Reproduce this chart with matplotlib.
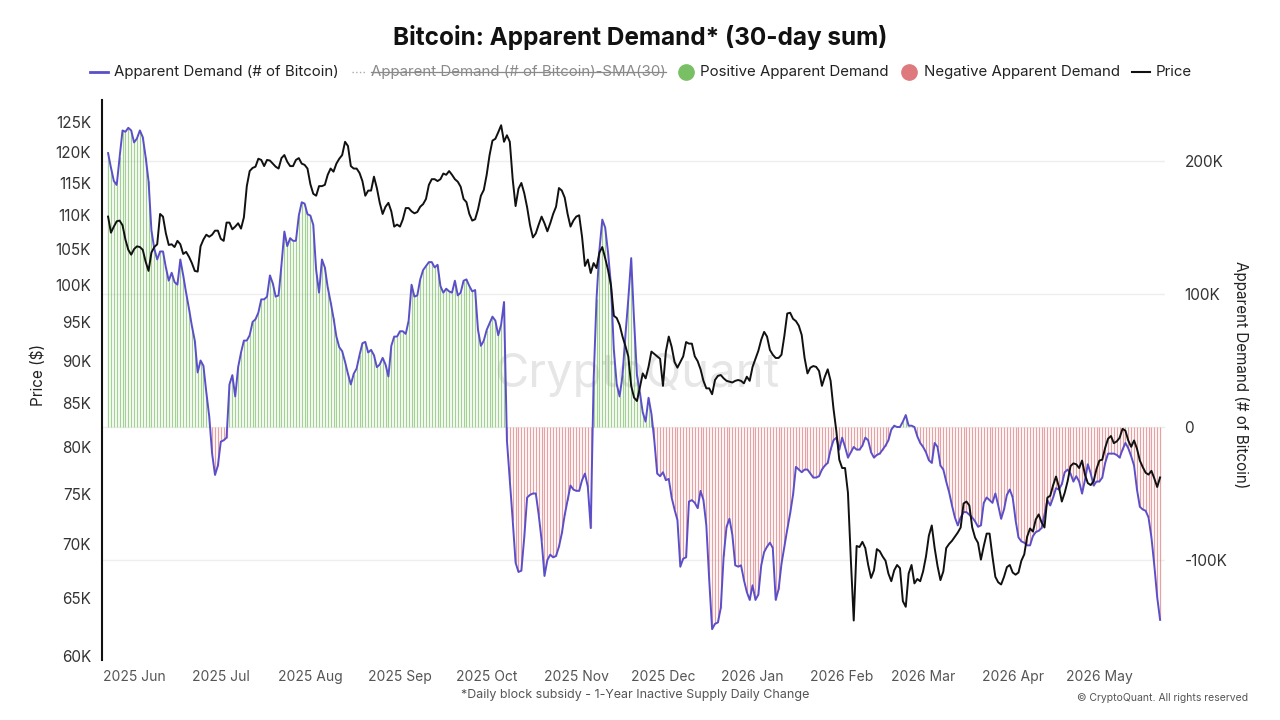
import numpy as np
import pandas as pd
import matplotlib
matplotlib.use("Agg")
import matplotlib.pyplot as plt
import matplotlib.dates as mdates
from matplotlib.lines import Line2D
from matplotlib.ticker import FixedLocator, NullLocator, FuncFormatter

plt.rcParams['font.family'] = ['Inter', 'DejaVu Sans']

# daily data, 2025-05-23 .. 2026-05-22
dates = pd.date_range('2025-05-23', periods=365, freq='D')

# Apparent demand, thousands of BTC (30-day sum)
demand_k = [
    206, 195, 185, 182, 203, 223, 222, 225, 223, 214,
    217, 223, 218, 203, 185, 148, 134, 126, 132, 132,
    120, 110, 116, 109, 107, 126, 114, 101, 89, 76,
    65, 41, 50, 46, 26, 8, -20, -36, -29, -11,
    -10, -8, 32, 39, 23, 45, 56, 65, 65, 69,
    79, 81, 86, 96, 96, 98, 114, 108, 98, 99,
    122, 147, 136, 142, 140, 140, 159, 169, 168, 160,
    159, 152, 118, 101, 126, 120, 105, 94, 82, 68,
    60, 57, 49, 40, 32, 40, 44, 54, 63, 64,
    56, 58, 54, 45, 47, 52, 47, 38, 61, 68,
    68, 72, 72, 70, 80, 107, 98, 99, 111, 118,
    121, 124, 124, 120, 122, 106, 101, 104, 102, 101,
    110, 99, 101, 110, 111, 106, 102, 103, 73, 61,
    65, 73, 78, 83, 80, 69, 77, 94, -10, -40,
    -70, -102, -109, -108, -83, -53, -51, -50, -50, -66,
    -85, -112, -100, -96, -98, -97, -90, -80, -66, -55,
    -44, -47, -48, -48, -40, -35, -45, -76, 35, 96,
    133, 156, 150, 131, 107, 58, 32, 23, 39, 69,
    96, 127, 80, 39, 26, 11, 4, 22, 10, -10,
    -35, -37, -34, -40, -39, -53, -62, -70, -105, -99,
    -98, -56, -55, -57, -61, -48, -55, -74, -115, -152,
    -148, -147, -136, -97, -75, -69, -81, -104, -105, -104,
    -115, -124, -130, -119, -130, -126, -104, -94, -90, -87,
    -91, -130, -122, -103, -90, -77, -65, -51, -30, -32,
    -34, -32, -32, -35, -38, -38, -37, -32, -29, -27,
    -17, -10, -8, -17, -8, -15, -23, -19, -15, -17,
    -17, -14, -8, -10, -19, -23, -21, -20, -17, -14,
    -10, -2, 1, 0, 0, 4, 9, 1, 1, 0,
    -7, -12, -15, -19, -25, -27, -12, -15, -29, -32,
    -41, -49, -59, -68, -74, -68, -64, -64, -66, -68,
    -71, -75, -74, -57, -53, -55, -57, -50, -59, -69,
    -62, -51, -47, -53, -70, -83, -86, -87, -89, -89,
    -82, -79, -78, -76, -66, -55, -59, -53, -46, -47,
    -43, -34, -32, -35, -41, -37, -41, -50, -40, -28,
    -35, -44, -41, -41, -38, -27, -20, -20, -20, -21,
    -23, -17, -12, -16, -22, -29, -47, -60, -62, -63,
    -68, -83, -104, -128, -145,
]

# BTC price, thousands of USD
price_k = [
    109.8, 107.4, 108.3, 109.1, 109.2, 108.5, 106.4, 104.9, 104.2, 105.0,
    105.4, 105.3, 104.9, 103.2, 101.9, 104.5, 105.3, 105.7, 110.2, 109.8,
    107.3, 105.6, 105.7, 105.3, 106.2, 105.7, 104.3, 104.6, 103.9, 103.0,
    101.9, 101.8, 105.4, 106.4, 107.1, 106.8, 107.1, 107.7, 107.7, 106.5,
    106.2, 108.9, 108.9, 107.9, 108.3, 108.8, 108.0, 109.7, 114.5, 116.9,
    117.4, 117.6, 118.9, 118.7, 117.7, 118.7, 118.6, 118.1, 117.6, 117.3,
    119.0, 119.5, 118.4, 117.7, 117.7, 118.7, 119.0, 118.1, 117.9, 117.3,
    114.8, 113.3, 113.0, 114.5, 114.5, 114.7, 116.3, 117.3, 116.8, 118.1,
    118.9, 119.5, 121.7, 121.0, 117.7, 117.3, 117.3, 116.6, 115.3, 113.0,
    113.8, 113.8, 116.0, 114.2, 111.9, 110.2, 111.3, 111.9, 110.6, 108.3,
    108.6, 108.3, 109.4, 111.1, 111.1, 110.6, 110.3, 110.5, 111.3, 111.7,
    112.5, 114.7, 115.6, 115.6, 115.3, 115.6, 116.5, 116.3, 116.9, 116.3,
    115.6, 115.2, 114.4, 112.5, 112.0, 110.2, 109.2, 109.4, 110.9, 113.0,
    113.9, 116.3, 119.5, 121.9, 122.2, 123.3, 124.5, 121.7, 122.8, 121.7,
    115.6, 111.4, 114.1, 115.0, 113.4, 111.2, 108.5, 106.7, 107.3, 108.6,
    109.8, 108.8, 107.6, 108.8, 110.2, 111.3, 114.2, 113.8, 112.7, 110.2,
    108.3, 109.2, 109.8, 110.0, 106.8, 102.6, 103.5, 101.6, 103.0, 102.3,
    104.5, 105.3, 103.7, 102.0, 99.9, 95.8, 95.5, 94.6, 93.1, 91.9,
    90.6, 87.0, 85.6, 85.2, 86.8, 88.5, 87.9, 89.3, 91.2, 90.9,
    90.6, 90.3, 87.0, 91.2, 93.1, 91.8, 89.9, 89.2, 89.9, 90.6,
    92.4, 92.2, 92.2, 90.6, 90.0, 89.0, 87.6, 86.7, 86.7, 86.0,
    87.7, 88.2, 88.3, 87.9, 87.6, 87.5, 87.4, 87.6, 87.7, 87.6,
    87.3, 88.1, 87.6, 89.3, 90.3, 91.3, 92.7, 93.7, 93.1, 91.4,
    90.8, 90.4, 90.4, 90.8, 93.2, 96.1, 96.2, 95.4, 95.1, 94.5,
    93.3, 90.4, 88.5, 89.2, 89.4, 89.3, 88.8, 87.0, 88.1, 89.0,
    87.6, 84.3, 81.7, 78.6, 77.7, 77.7, 75.1, 68.5, 63.0, 69.8,
    69.7, 70.2, 69.6, 68.0, 66.8, 67.5, 69.5, 69.3, 68.8, 68.4,
    67.2, 66.5, 67.5, 68.0, 67.7, 64.7, 64.2, 67.2, 68.0, 66.3,
    66.7, 66.5, 67.4, 68.8, 70.8, 71.8, 69.6, 67.9, 66.6, 67.4,
    69.6, 70.0, 70.3, 70.7, 71.1, 71.6, 74.0, 74.2, 73.8, 71.6,
    70.6, 70.1, 68.5, 69.8, 71.0, 71.0, 68.8, 66.9, 66.4, 66.2,
    66.9, 67.8, 68.0, 67.3, 67.1, 67.3, 68.4, 69.0, 70.7, 71.5,
    71.2, 72.4, 72.9, 72.1, 71.6, 74.6, 74.8, 75.9, 76.8, 75.7,
    74.2, 75.1, 76.3, 77.9, 78.2, 78.1, 77.7, 78.5, 77.0, 76.1,
    75.9, 76.3, 77.6, 78.5, 78.6, 79.9, 80.9, 81.2, 80.4, 80.6,
    81.0, 82.0, 81.8, 80.7, 80.0, 80.7, 79.8, 78.5, 77.8, 77.2,
    77.0, 77.4, 76.6, 75.7, 76.7,
]

price_ticks = [60, 65, 70, 75, 80, 85, 90, 95, 100, 105, 110, 115, 120, 125]
demand_ticks = [-100, 0, 100, 200]

demand = np.array(demand_k, dtype=float)
price = np.array(price_k, dtype=float)

PURPLE = '#5b4fc9'
GREEN = '#79c064'
RED = '#de7a7e'

fig = plt.figure(figsize=(12.8, 7.2), dpi=100)
ax = fig.add_axes([102 / 1280, 1 - 660 / 720, (1165 - 102) / 1280, 560 / 720])

# demand on the base axes (right side), price on the twin so it sits on top
pos = demand >= 0
ax.vlines(dates[pos], 0, demand[pos], color=GREEN, lw=0.9, alpha=0.7, zorder=2)
ax.vlines(dates[~pos], 0, demand[~pos], color=RED, lw=0.9, alpha=0.7, zorder=2)
ax.plot(dates, demand, color=PURPLE, lw=1.4, zorder=3)
ax.set_ylim(-175.2, 245.9)
ax.set_xlim(dates[0] - pd.Timedelta(days=2.1), dates[0] + pd.Timedelta(days=365.7))
ax.grid(axis='y', color='#eeeeee', lw=1)
ax.set_axisbelow(True)

ax.xaxis.set_major_locator(mdates.MonthLocator())
ax.xaxis.set_major_formatter(mdates.DateFormatter('%Y %b'))
ax.tick_params(axis='x', length=0, pad=7, labelsize=10, labelcolor='#555555')

ax.text(0.503, 0.509, 'CryptoQuant', transform=ax.transAxes, fontsize=34,
        color='#c8c8c8', alpha=0.45, ha='center', va='center', zorder=1)

for s in ax.spines.values():
    s.set_visible(False)

axp = ax.twinx()
axp.plot(dates, price, color='#111111', lw=1.4, zorder=4)
axp.set_yscale('log')
axp.set_ylim(59.67, 128.9)

# twinx moves the base axis ticks to the left, so set sides afterwards
ax.yaxis.tick_right()
ax.yaxis.set_major_locator(FixedLocator(demand_ticks))
ax.yaxis.set_major_formatter(FuncFormatter(lambda v, p: '0' if v == 0 else f'{int(v)}K'))
ax.tick_params(axis='y', which='both', left=False, labelleft=False, right=False,
               labelright=True, length=0, pad=14, labelsize=11, labelcolor='#333333')

axp.yaxis.tick_left()
axp.yaxis.set_major_locator(FixedLocator(price_ticks))
axp.yaxis.set_minor_locator(NullLocator())
axp.yaxis.set_major_formatter(FuncFormatter(lambda v, p: f'{int(round(v))}K'))
axp.tick_params(axis='y', which='both', right=False, labelright=False, left=False,
                labelleft=True, length=0, pad=8, labelsize=11, labelcolor='#333333')
for name, s in axp.spines.items():
    s.set_visible(name == 'left')
axp.spines['left'].set_color('#111111')
axp.spines['left'].set_linewidth(1.5)

fig.text(38 / 1280, 1 - 375 / 720, 'Price ($)', rotation=90, ha='center', va='center',
         fontsize=11, color='#222222')
fig.text(1241 / 1280, 1 - 375 / 720, 'Apparent Demand (# of Bitcoin)', rotation=270,
         ha='center', va='center', fontsize=11, color='#222222')

fig.text(0.5, 1 - 38 / 720, 'Bitcoin: Apparent Demand* (30-day sum)', ha='center',
         va='center', fontsize=17.5, fontweight='bold', color='#111111')

fig.text(635 / 1280, 1 - 695 / 720, '*Daily block subsidy - 1-Year Inactive Supply Daily Change',
         ha='center', va='center', fontsize=9, color='#555555')
fig.text(1248 / 1280, 1 - 698 / 720, '\u00a9 CryptoQuant. All rights reserved', ha='right',
         va='center', fontsize=7.5, color='#555555')

# legend row, built by hand
ly = 1 - 72 / 720
fs = 10.8
fig.add_artist(Line2D([90 / 1280, 108 / 1280], [ly, ly], color=PURPLE, lw=2, transform=fig.transFigure))
fig.text(114 / 1280, ly, 'Apparent Demand (# of Bitcoin)', ha='left', va='center', fontsize=fs, color='#222222')
fig.add_artist(Line2D([352 / 1280, 366 / 1280], [ly, ly], color='#aaaaaa', lw=1, ls=':', transform=fig.transFigure))
sma = fig.text(371 / 1280, ly, 'Apparent Demand (# of Bitcoin)-SMA(30)', ha='left', va='center',
               fontsize=fs, color='#8a8a8a')
fig.add_artist(Line2D([686 / 1280], [ly], marker='o', ms=11, color=GREEN, lw=0, transform=fig.transFigure))
fig.text(700 / 1280, ly, 'Positive Apparent Demand', ha='left', va='center', fontsize=fs, color='#222222')
fig.add_artist(Line2D([909 / 1280], [ly], marker='o', ms=11, color=RED, lw=0, transform=fig.transFigure))
fig.text(924 / 1280, ly, 'Negative Apparent Demand', ha='left', va='center', fontsize=fs, color='#222222')
fig.add_artist(Line2D([1132 / 1280, 1150 / 1280], [ly, ly], color='#111111', lw=1.5, transform=fig.transFigure))
fig.text(1156 / 1280, ly, 'Price', ha='left', va='center', fontsize=fs, color='#222222')

# strike through the hidden SMA entry
renderer = fig.canvas.get_renderer()
bb = sma.get_window_extent(renderer).transformed(fig.transFigure.inverted())
ym = (bb.y0 + bb.y1) / 2
fig.add_artist(Line2D([bb.x0, bb.x1], [ym, ym], color='#8a8a8a', lw=0.9, transform=fig.transFigure))

fig.savefig('out.png', dpi=100)
